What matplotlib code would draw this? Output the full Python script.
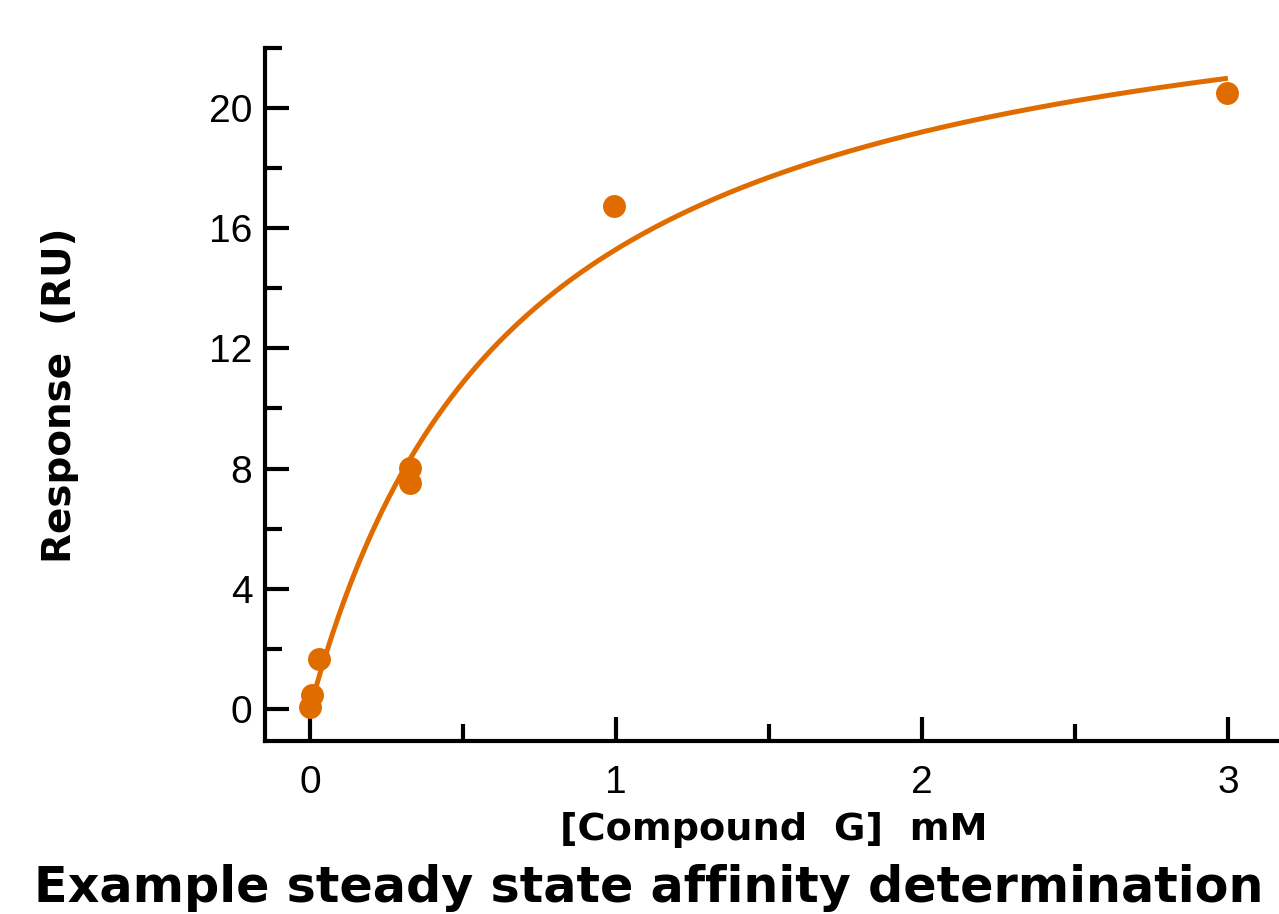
import numpy as np
import matplotlib.pyplot as plt
from matplotlib.ticker import MultipleLocator

# measured responses
conc_mM = [0.0, 0.007, 0.03, 0.327, 0.327, 0.993, 2.997]
response_RU = [0.07, 0.47, 1.65, 8.03, 7.53, 16.73, 20.5]

# steady state (1:1) fit parameters
r_max = 25.8
k_d = 0.687

orange = "#e06c00"

fig = plt.figure(figsize=(12.79, 9.14), dpi=100, facecolor="white")
ax = fig.add_axes([265 / 1279, 1 - 741 / 914, 1 - 265 / 1279, (741 - 48) / 914])

c_fit = np.linspace(0, 3.0, 400)
r_fit = r_max * c_fit / (k_d + c_fit)
ax.plot(c_fit, r_fit, color=orange, lw=3.6, solid_capstyle="butt", zorder=2)
ax.plot(conc_mM, response_RU, "o", color=orange, ms=16.5, mew=0, zorder=3,
        clip_on=False)

ax.set_xlim(-0.147, 3.167)
ax.set_ylim(-1.07, 22)

ax.xaxis.set_major_locator(MultipleLocator(1))
ax.xaxis.set_minor_locator(MultipleLocator(0.5))
ax.yaxis.set_major_locator(MultipleLocator(4))
ax.yaxis.set_minor_locator(MultipleLocator(2))

for side in ["top", "right"]:
    ax.spines[side].set_visible(False)
for side in ["left", "bottom"]:
    ax.spines[side].set_linewidth(3.0)
    ax.spines[side].set_color("black")

ax.tick_params(which="both", direction="in", width=3.0, colors="black")
ax.tick_params(which="major", length=17)
ax.tick_params(which="minor", length=12.5)
ax.tick_params(axis="y", which="major", pad=9, labelsize=28)
ax.tick_params(axis="x", which="major", pad=17, labelsize=28)
for lbl in ax.get_xticklabels() + ax.get_yticklabels():
    lbl.set_family("Liberation Sans")

fig.text(60 / 1279, 1 - 395 / 914, "Response  (RU)", rotation=90,
         ha="center", va="center", fontsize=28, fontweight="bold",
         family="DejaVu Sans")
fig.text(774 / 1279, 1 - 830 / 914, "[Compound  G]  mM",
         ha="center", va="center", fontsize=27.5, fontweight="bold",
         family="DejaVu Sans")
fig.text(649 / 1279, 1 - 888 / 914, "Example steady state affinity determination",
         ha="center", va="center", fontsize=35.5, fontweight="bold",
         family="DejaVu Sans")

fig.savefig("out.png", dpi=100, facecolor="white")
